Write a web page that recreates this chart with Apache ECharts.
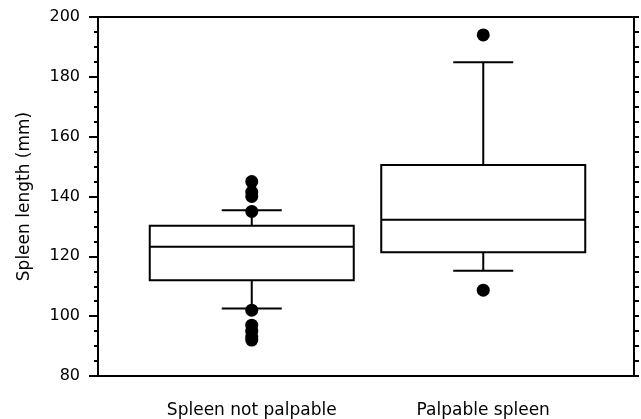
<!DOCTYPE html>
<html>
<head>
<meta charset="utf-8">
<script src="https://cdn.jsdelivr.net/npm/echarts@6/dist/echarts.min.js"></script>
<style>html,body{margin:0;padding:0;background:#fff}#c{width:641px;height:419px}</style>
</head>
<body>
<div id="c"></div>
<script>
const categories = ['Spleen not palpable', 'Palpable spleen'];
const lowWhisker = [102.6, 115.2];
const q1 = [112, 121.4];
const median = [123.2, 132.2];
const q3 = [130.2, 150.5];
const highWhisker = [135.4, 184.9];
const outliersNotPalpable = [145, 141.5, 140, 135, 102, 97, 95, 93, 92];
const outliersPalpable = [194, 108.7];
const yTicks = [80, 100, 120, 140, 160, 180, 200];

const boxData = categories.map((c, i) => [i, lowWhisker[i], q1[i], median[i], q3[i], highWhisker[i]]);
const outlierData = outliersNotPalpable.map(v => [0, v]).concat(outliersPalpable.map(v => [1, v]));

const FONT = 'DejaVu Sans';
const chart = echarts.init(document.getElementById('c'), null, {renderer: 'canvas'});
const yMin = yTicks[0], yMax = yTicks[yTicks.length - 1], yStep = yTicks[1] - yTicks[0];

chart.setOption({
  backgroundColor: '#fff',
  animation: false,
  grid: [
    {left: 98, right: 7, top: 17, bottom: 43, show: true, borderColor: '#000', borderWidth: 2, backgroundColor: 'transparent'},
    {left: 136, right: 42, top: 17, bottom: 43}
  ],
  xAxis: [
    {gridIndex: 0, type: 'value', min: 0, max: 1, show: false},
    {gridIndex: 1, type: 'category', data: categories, boundaryGap: true,
     axisLine: {show: false}, axisTick: {show: false},
     axisLabel: {color: '#000', fontFamily: FONT, fontSize: 17, margin: 26}}
  ],
  yAxis: [
    {gridIndex: 0, type: 'value', position: 'left', min: yMin, max: yMax, interval: yStep,
     name: 'Spleen length (mm)', nameLocation: 'middle', nameGap: 65,
     nameTextStyle: {color: '#000', fontFamily: FONT, fontSize: 17},
     axisLine: {show: true, lineStyle: {color: '#000', width: 2}},
     axisTick: {show: true, inside: false, length: 9, lineStyle: {color: '#000', width: 2}},
     minorTick: {show: true, splitNumber: 4, length: 4, lineStyle: {color: '#000', width: 2}},
     splitLine: {show: false},
     axisLabel: {color: '#000', fontFamily: FONT, fontSize: 16, margin: 18}},
    {gridIndex: 0, type: 'value', position: 'right', min: yMin, max: yMax, interval: yStep,
     axisLine: {show: true, lineStyle: {color: '#000', width: 2}},
     axisTick: {show: true, inside: false, length: 5, lineStyle: {color: '#000', width: 2}},
     minorTick: {show: true, splitNumber: 4, length: 5, lineStyle: {color: '#000', width: 2}},
     splitLine: {show: false}, axisLabel: {show: false}},
    {gridIndex: 1, type: 'value', min: yMin, max: yMax, interval: yStep, show: false}
  ],
  series: [
    {
      type: 'custom', xAxisIndex: 1, yAxisIndex: 2,
      data: boxData,
      encode: {x: 0, y: [1, 2, 3, 4, 5]},
      renderItem: function (params, api) {
        const x = api.coord([api.value(0), 0])[0];
        const yLow = api.coord([api.value(0), api.value(1)])[1];
        const yQ1 = api.coord([api.value(0), api.value(2)])[1];
        const yMed = api.coord([api.value(0), api.value(3)])[1];
        const yQ3 = api.coord([api.value(0), api.value(4)])[1];
        const yHigh = api.coord([api.value(0), api.value(5)])[1];
        const hw = 102, cw = 30;
        const st = {stroke: '#000', lineWidth: 2, fill: null};
        return {
          type: 'group',
          children: [
            {type: 'line', shape: {x1: x, y1: yQ3, x2: x, y2: yHigh}, style: st},
            {type: 'line', shape: {x1: x, y1: yQ1, x2: x, y2: yLow}, style: st},
            {type: 'line', shape: {x1: x - cw, y1: yHigh, x2: x + cw, y2: yHigh}, style: st},
            {type: 'line', shape: {x1: x - cw, y1: yLow, x2: x + cw, y2: yLow}, style: st},
            {type: 'rect', shape: {x: x - hw, y: yQ3, width: 2 * hw, height: yQ1 - yQ3}, style: {stroke: '#000', lineWidth: 2, fill: '#fff'}},
            {type: 'line', shape: {x1: x - hw, y1: yMed, x2: x + hw, y2: yMed}, style: st}
          ]
        };
      },
      z: 2
    },
    {
      type: 'scatter', xAxisIndex: 1, yAxisIndex: 2,
      data: outlierData, symbol: 'circle', symbolSize: 13,
      itemStyle: {color: '#000', opacity: 1}, z: 3
    }
  ]
});
</script>
</body>
</html>
